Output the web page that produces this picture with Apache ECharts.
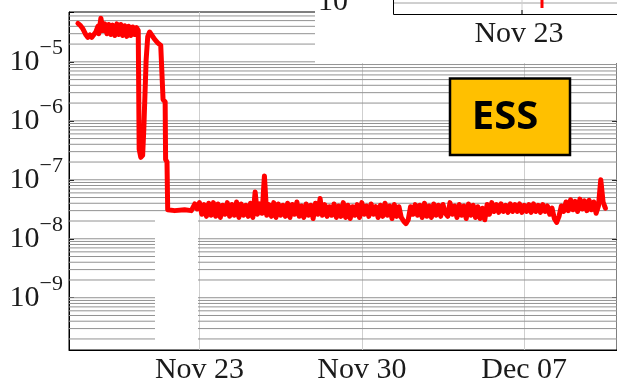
<!DOCTYPE html>
<html>
<head>
<meta charset="utf-8">
<script src="https://cdn.jsdelivr.net/npm/echarts@6/dist/echarts.min.js"></script>
<style>
  html, body { margin: 0; padding: 0; background: #ffffff; }
  #chart { width: 617px; height: 385px; }
</style>
</head>
<body>
<div id="chart"></div>
<script>
// Vacuum pressure history, time in days relative to Nov 23 00:00.

// Venting / pump-down phase (irregular samples)
const rampDays = [-5.24, -5.15, -5.02, -4.89, -4.81, -4.72, -4.64, -4.55, -4.47, -4.38,
  -4.34, -4.25, -4.16, -4.08, -3.99, -3.91, -3.82, -3.74, -3.65, -3.56,
  -3.48, -3.39, -3.31, -3.22, -3.13, -3.05, -2.96, -2.88, -2.79, -2.71,
  -2.64, -2.60, -2.53, -2.45, -2.40, -2.34, -2.30, -2.23, -2.15, -2.06,
  -1.93, -1.80, -1.67, -1.59, -1.57, -1.48, -1.46, -1.40, -1.37, -1.07,
  -0.64, -0.35];
const rampValues = [4.5e-5, 4.2e-5, 3.6e-5, 2.85e-5, 2.6e-5, 2.85e-5, 2.6e-5, 2.9e-5, 3.2e-5, 4.0e-5,
  3.0e-5, 5.5e-5, 3.4e-5, 4.4e-5, 3.0e-5, 4.3e-5, 2.9e-5, 4.2e-5, 2.8e-5, 4.4e-5,
  2.9e-5, 4.3e-5, 2.8e-5, 4.1e-5, 2.7e-5, 4.0e-5, 2.8e-5, 3.9e-5, 2.9e-5, 3.8e-5,
  3.4e-5, 3.3e-7, 2.4e-7, 2.6e-7, 7.2e-7, 7.7e-7, 1.08e-5, 2.7e-5, 3.2e-5, 2.85e-5,
  2.4e-5, 2.1e-5, 1.9e-5, 1.8e-5, 2.3e-6, 2.1e-6, 2.2e-7, 2.0e-7, 3.1e-8, 3.0e-8,
  3.1e-8, 3.0e-8];

// Base pressure, logged every 0.1 day
const bandStartDay = -0.3;
const bandStepDay = 0.1;
const bandValues = [
  3.0e-8, 3.9e-8, 3.2e-8, 4.1e-8, 2.6e-8, 3.8e-8, 2.4e-8, 4.0e-8, 2.5e-8, 4.1e-8,
  2.4e-8, 3.9e-8, 2.3e-8, 3.7e-8, 2.6e-8, 4.1e-8, 2.4e-8, 3.8e-8, 2.5e-8, 4.2e-8,
  2.3e-8, 3.9e-8, 2.5e-8, 3.7e-8, 2.4e-8, 4.0e-8, 2.3e-8, 6.2e-8, 2.6e-8, 3.9e-8,
  2.7e-8, 1.16e-7, 2.5e-8, 3.8e-8, 2.4e-8, 4.1e-8, 2.3e-8, 3.9e-8, 2.5e-8, 3.7e-8,
  2.4e-8, 4.0e-8, 2.3e-8, 3.8e-8, 2.6e-8, 4.2e-8, 2.4e-8, 3.6e-8, 2.3e-8, 3.9e-8,
  2.5e-8, 3.7e-8, 2.2e-8, 4.0e-8, 2.6e-8, 4.8e-8, 2.5e-8, 3.8e-8, 2.4e-8, 3.5e-8,
  2.5e-8, 3.9e-8, 2.3e-8, 3.6e-8, 2.4e-8, 4.1e-8, 2.3e-8, 3.7e-8, 2.2e-8, 3.5e-8,
  2.5e-8, 3.8e-8, 2.3e-8, 4.1e-8, 2.6e-8, 3.6e-8, 2.4e-8, 3.9e-8, 2.6e-8, 3.5e-8,
  2.3e-8, 3.7e-8, 2.4e-8, 4.0e-8, 2.5e-8, 3.6e-8, 2.2e-8, 3.8e-8, 2.4e-8, 3.5e-8,
  2.3e-8, 2.0e-8, 1.8e-8, 2.1e-8, 3.5e-8, 2.6e-8, 3.8e-8, 2.5e-8, 3.7e-8, 2.3e-8,
  4.0e-8, 2.4e-8, 3.6e-8, 2.3e-8, 3.9e-8, 2.5e-8, 3.7e-8, 2.4e-8, 3.8e-8, 2.7e-8,
  2.4e-8, 4.1e-8, 2.6e-8, 3.6e-8, 2.3e-8, 3.8e-8, 2.5e-8, 3.6e-8, 2.2e-8, 3.9e-8,
  2.5e-8, 3.7e-8, 2.3e-8, 3.5e-8, 2.2e-8, 3.3e-8, 2.1e-8, 3.8e-8, 2.6e-8, 4.1e-8,
  2.9e-8, 3.8e-8, 2.8e-8, 3.9e-8, 2.9e-8, 3.7e-8, 2.8e-8, 3.9e-8, 2.9e-8, 3.8e-8,
  2.9e-8, 3.9e-8, 2.8e-8, 3.7e-8, 2.9e-8, 3.8e-8, 2.8e-8, 3.9e-8, 2.9e-8, 3.7e-8,
  2.8e-8, 3.8e-8, 2.9e-8, 3.6e-8, 2.6e-8, 3.3e-8, 2.2e-8, 1.9e-8, 2.4e-8, 3.6e-8,
  2.9e-8, 4.2e-8, 3.0e-8, 4.6e-8, 3.1e-8, 4.3e-8, 2.9e-8, 4.7e-8, 3.2e-8, 4.4e-8,
  3.0e-8, 4.5e-8, 3.1e-8, 4.2e-8, 2.7e-8, 3.6e-8, 1.0e-7, 4.2e-8, 3.3e-8
];

// Axis ticks
const xTickDays = [0, 7, 14];
const xTickLabels = ['Nov 23', 'Nov 30', 'Dec 07'];
const xMin = -5.625, xMax = 18;
const yMin = 1.3e-10, yMax = 7e-5;
const gridDecades = [-10, -9, -8, -7, -6, -5];
const gridMantissas = [1, 2, 3, 4, 5, 6, 7, 8, 9];

// Assemble the trace
const trace = rampDays.map((d, i) => [d, rampValues[i]]);
bandValues.forEach((v, i) => {
  trace.push([+(bandStartDay + i * bandStepDay).toFixed(2), v]);
});

// Logarithmic grid lines at 1..9 x 10^n, one thin series each
const gridSeries = [];
gridDecades.forEach(e => {
  gridMantissas.forEach(m => {
    const v = m * Math.pow(10, e);
    if (v > yMin * 1.001 && v < yMax * 0.999) {
      gridSeries.push({
        type: 'line', silent: true, z: 1, showSymbol: false, symbol: 'none',
        data: [[xMin, v], [xMax, v]],
        lineStyle: { color: '#929292', width: 1 },
        emphasis: { disabled: true }
      });
    }
  });
});
const vLines = xTickDays.map(d => ({ xAxis: d }));

const serif = 'Liberation Serif';

function decadeLabel(v) {
  const e = Math.log10(v);
  const r = Math.round(e);
  if (Math.abs(e - r) > 1e-6) return '';
  return '{b|10}{s|\u2212' + (-r) + '}';
}

const chart = echarts.init(document.getElementById('chart'), null, { renderer: 'canvas' });

chart.setOption({
  animation: false,
  backgroundColor: '#ffffff',
  grid: { left: 69, right: -2, top: 12, bottom: 33, show: true, borderColor: '#000', borderWidth: 1, backgroundColor: 'transparent' },
  xAxis: [{
    type: 'value', min: xMin, max: xMax, position: 'bottom',
    axisLine: { show: true, onZero: false, lineStyle: { color: '#000', width: 1 } },
    axisTick: { show: true, inside: true, length: 5, customValues: xTickDays, lineStyle: { color: '#000' } },
    axisLabel: {
      customValues: xTickDays,
      formatter: v => { const k = xTickDays.indexOf(Math.round(v)); return k >= 0 ? xTickLabels[k] : ''; },
      color: '#1a1a1a', fontFamily: serif, fontSize: 30, margin: 5
    },
    splitLine: { show: false }
  }, {
    type: 'value', min: xMin, max: xMax, position: 'top',
    axisLine: { show: false, onZero: false },
    axisTick: { show: true, inside: true, length: 5, customValues: xTickDays, lineStyle: { color: '#000' } },
    axisLabel: { show: false },
    splitLine: { show: false }
  }],
  yAxis: [{
    type: 'log', logBase: 10, min: yMin, max: yMax, position: 'left',
    axisLine: { show: true, onZero: false, lineStyle: { color: '#000', width: 1 } },
    axisTick: { show: true, inside: true, length: 5, lineStyle: { color: '#000' } },
    axisLabel: {
      formatter: decadeLabel, margin: 6, padding: [0, 0, 10, 0],
      rich: {
        b: { fontFamily: serif, fontSize: 30, color: '#1a1a1a', verticalAlign: 'bottom', lineHeight: 40 },
        s: { fontFamily: serif, fontSize: 22, color: '#1a1a1a', verticalAlign: 'top', lineHeight: 40 }
      }
    },
    splitLine: { show: false }
  }, {
    type: 'log', logBase: 10, min: yMin, max: yMax, position: 'right',
    axisLine: { show: false, onZero: false },
    axisTick: { show: true, inside: true, length: 5, lineStyle: { color: '#000' } },
    axisLabel: { show: false },
    splitLine: { show: false }
  }],
  series: gridSeries.concat([{
    type: 'line',
    data: trace,
    xAxisIndex: 0, yAxisIndex: 0,
    showSymbol: false,
    z: 3,
    lineStyle: { color: '#ff0000', width: 5, join: 'round', cap: 'round' },
    itemStyle: { color: '#ff0000' },
    markLine: {
      silent: true, symbol: 'none', z: 1, animation: false,
      label: { show: false },
      lineStyle: { color: '#cfcfcf', width: 1, type: 'solid' },
      data: vLines
    }
  }]),
  graphic: [
    // blank patch in the lower grid
    { type: 'rect', z: 2, silent: true, shape: { x: 155, y: 213, width: 43, height: 136 }, style: { fill: '#ffffff' } },
    // clipped neighbouring panel at the top right
    { type: 'rect', z: 100, silent: true, shape: { x: 315, y: 0, width: 302, height: 63 }, style: { fill: '#ffffff' } },
    { type: 'line', z: 101, silent: true, shape: { x1: 394, y1: 3, x2: 617, y2: 3 }, style: { stroke: '#a0a0a0', lineWidth: 1 } },
    { type: 'line', z: 101, silent: true, shape: { x1: 522, y1: 0, x2: 522, y2: 14 }, style: { stroke: '#cfcfcf', lineWidth: 1 } },
    { type: 'polyline', z: 102, silent: true, shape: { points: [[393.5, 0], [393.5, 14.5], [617, 14.5]] }, style: { stroke: '#000', lineWidth: 1, fill: null } },
    { type: 'line', z: 102, silent: true, shape: { x1: 522, y1: 14, x2: 522, y2: 10 }, style: { stroke: '#000', lineWidth: 1 } },
    { type: 'line', z: 102, silent: true, shape: { x1: 542, y1: 0, x2: 542, y2: 8 }, style: { stroke: '#ff0000', lineWidth: 3 } },
    { type: 'text', z: 102, silent: true, style: { text: '10', x: 318, y: 17, font: '30px "Liberation Serif"', fill: '#1a1a1a', verticalAlign: 'bottom' } },
    { type: 'text', z: 102, silent: true, style: { text: '\u22124', x: 362, y: 5, font: '21px "Liberation Serif"', fill: '#1a1a1a', verticalAlign: 'bottom' } },
    { type: 'text', z: 102, silent: true, style: { text: 'Nov 23', x: 519, y: 34, align: 'center', verticalAlign: 'middle', font: '30px "Liberation Serif"', fill: '#1a1a1a' } },
    // ESS tag
    { type: 'rect', z: 110, silent: true, shape: { x: 450, y: 78.5, width: 120, height: 76.5 }, style: { fill: '#ffc000', stroke: '#000', lineWidth: 2.5 } },
    { type: 'text', z: 111, silent: true, style: { text: 'ESS', x: 505, y: 118, align: 'center', verticalAlign: 'middle', font: 'bold 40px "Open Sans"', fill: '#000' } }
  ]
});
</script>
</body>
</html>
